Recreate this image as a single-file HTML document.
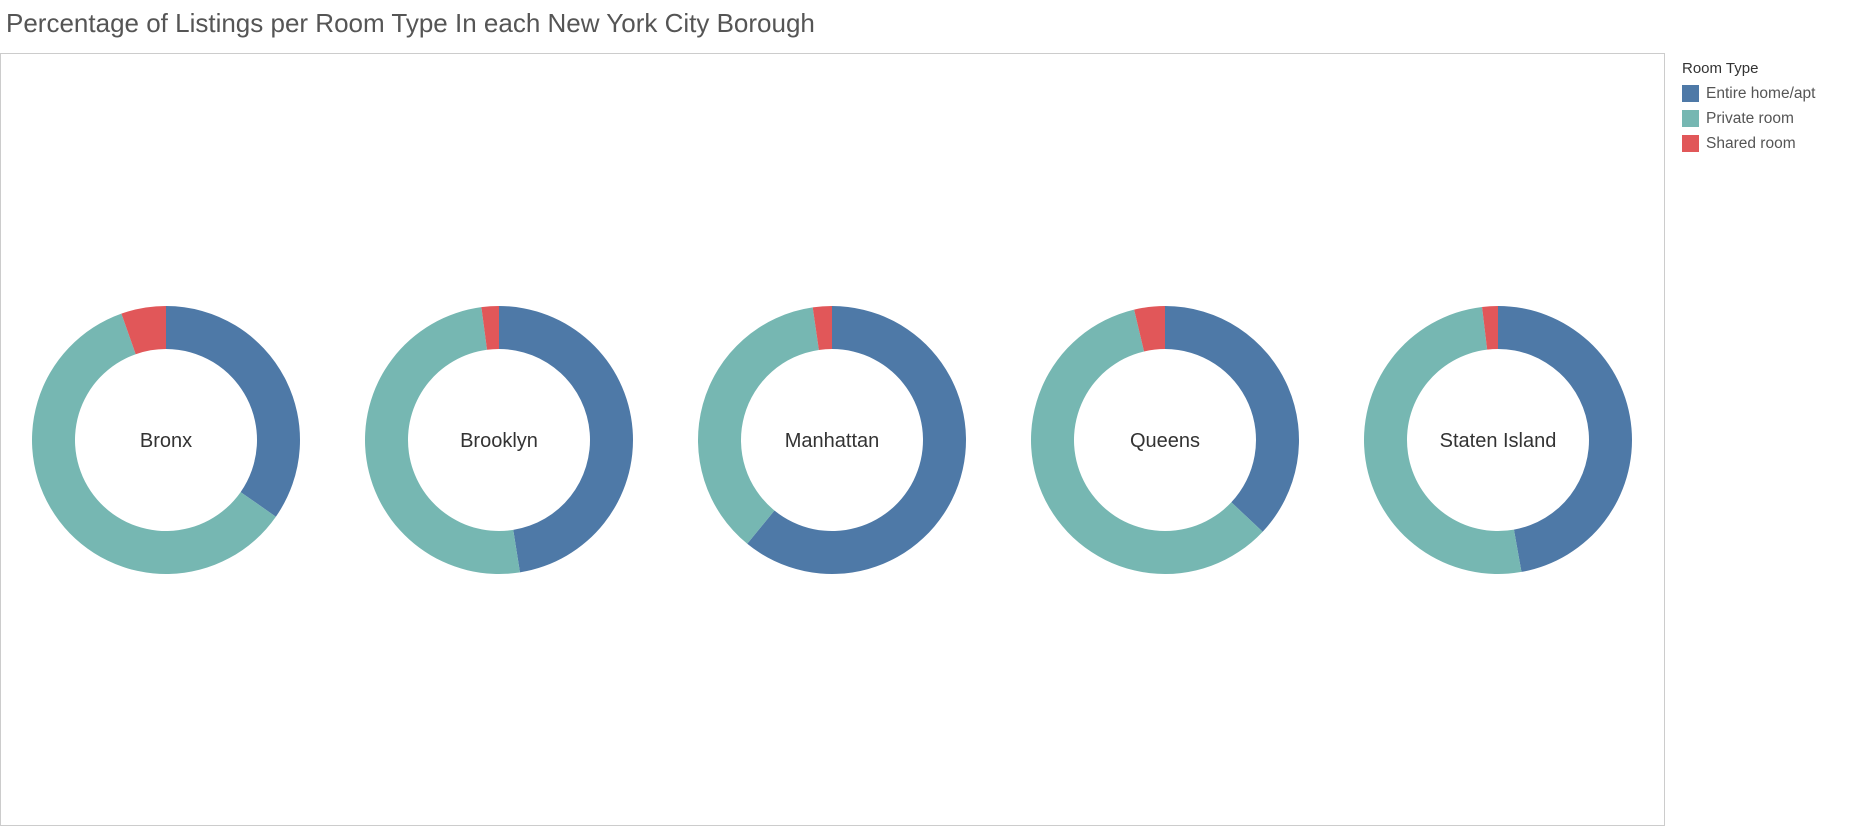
<!DOCTYPE html>
<html><head><meta charset="utf-8"><style>
body{margin:0;width:1854px;height:826px;background:#fff;font-family:"Liberation Sans",sans-serif;overflow:hidden;position:relative}
#title{position:absolute;left:6px;top:8px;font-size:26px;color:#555;font-weight:300}
#frame{position:absolute;left:0;top:53px;width:1663px;height:771px;border:1px solid #ccc}
#legend{position:absolute;left:1682px;top:60px;font-size:15.5px;color:#555}
.li{display:flex;align-items:center;height:25px}
.sw{width:17px;height:17px;margin-right:7px}
</style></head><body>
<div id="title">Percentage of Listings per Room Type In each New York City Borough</div>
<div id="frame"></div>
<svg id="chart" width="1854" height="826" style="position:absolute;left:0;top:0"></svg>
<div id="legend">
<div style="color:#333;font-size:15px;margin-bottom:4px">Room Type</div>
<div class="li"><div class="sw" style="background:#4e79a7"></div>Entire home/apt</div>
<div class="li"><div class="sw" style="background:#76b7b2"></div>Private room</div>
<div class="li"><div class="sw" style="background:#e15759"></div>Shared room</div>
</div>
<script>
const boroughs=["Bronx","Brooklyn","Manhattan","Queens","Staten Island"];
const entireHome=[34.7,47.5,60.9,37.0,47.2];
const privateRoom=[59.9,50.4,36.8,59.3,50.9];
const sharedRoom=[5.4,2.1,2.3,3.7,1.9];
const colors=["#4e79a7","#76b7b2","#e15759"];
const svg=document.getElementById('chart');
const NS="http://www.w3.org/2000/svg";
const cy=440,R=134,r=91;
function cxOf(i){return 166+i*333;}
function pt(cx,rad,a){return [cx+rad*Math.sin(a),cy-rad*Math.cos(a)];}
boroughs.forEach((b,i)=>{
  const vals=[entireHome[i],privateRoom[i],sharedRoom[i]];
  const tot=vals.reduce((s,v)=>s+v,0);
  let a0=0;const cx=cxOf(i);
  vals.forEach((v,k)=>{
    const a1=a0+v/tot*2*Math.PI;
    const [x1,y1]=pt(cx,R,a0),[x2,y2]=pt(cx,R,a1),[x3,y3]=pt(cx,r,a1),[x4,y4]=pt(cx,r,a0);
    const lg=(a1-a0)>Math.PI?1:0;
    const p=document.createElementNS(NS,'path');
    p.setAttribute('d',`M${x1},${y1}A${R},${R} 0 ${lg} 1 ${x2},${y2}L${x3},${y3}A${r},${r} 0 ${lg} 0 ${x4},${y4}Z`);
    p.setAttribute('fill',colors[k]);
    
    
    svg.appendChild(p);a0=a1;
  });
  const t=document.createElementNS(NS,'text');
  t.setAttribute('x',cx);t.setAttribute('y',cy+7);t.setAttribute('text-anchor','middle');
  t.setAttribute('font-size','20');t.setAttribute('fill','#333');t.setAttribute('font-family','Liberation Sans, sans-serif');
  t.textContent=b;
  
  
  svg.appendChild(t);
});
</script>
</body></html>
